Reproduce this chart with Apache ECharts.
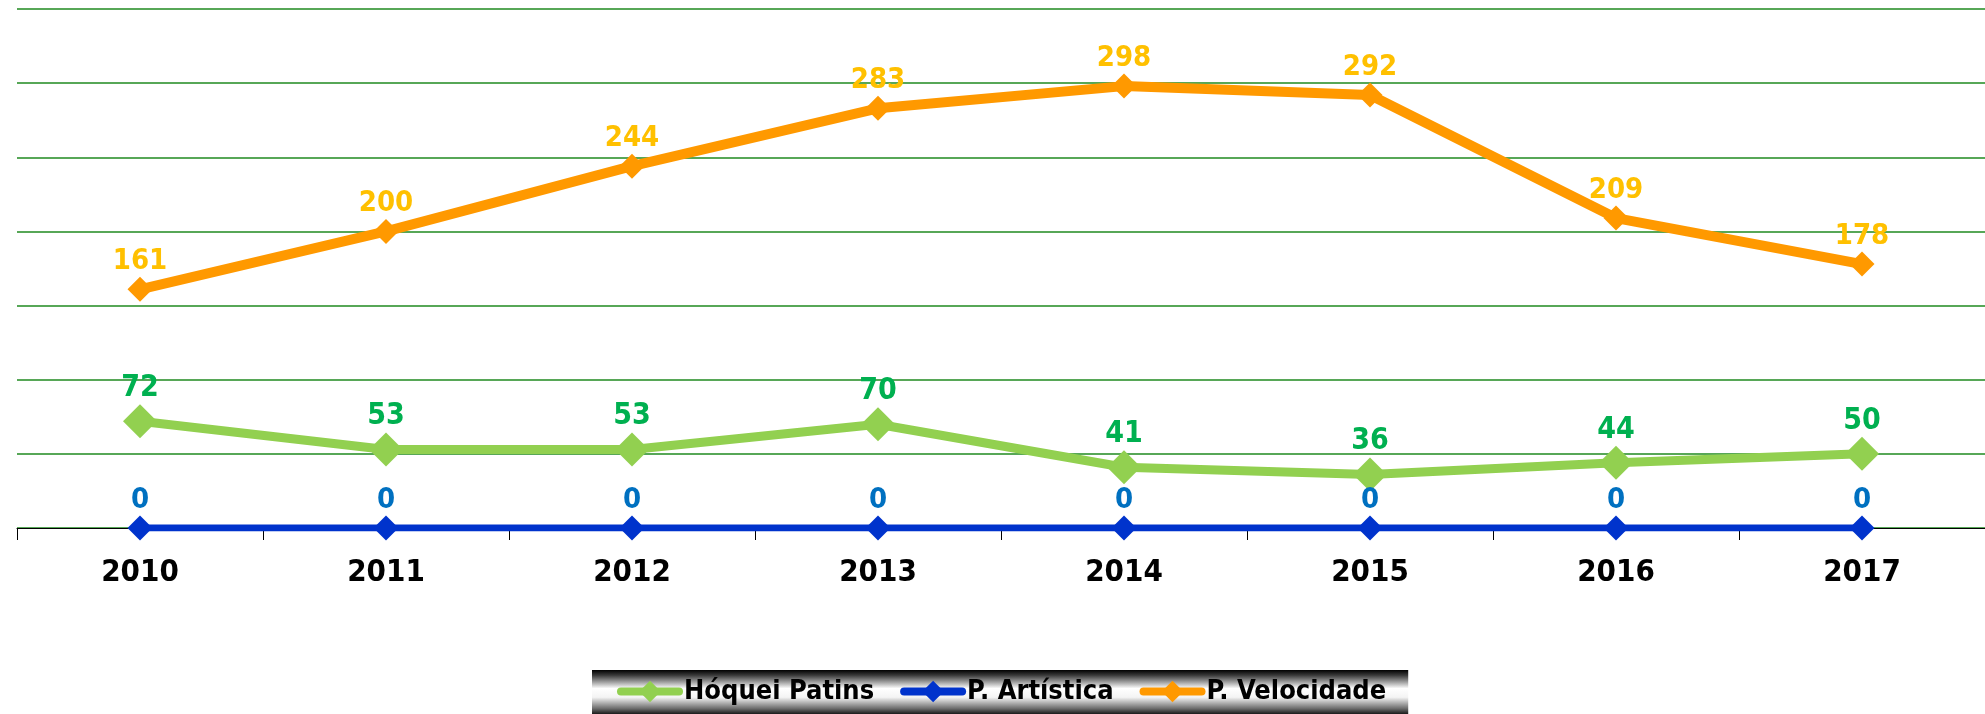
<!DOCTYPE html>
<html>
<head>
<meta charset="utf-8">
<script src="https://cdn.jsdelivr.net/npm/echarts@6/dist/echarts.min.js"></script>
<style>
	html, body {margin:0; padding:0; background:#fff;}
	#main {width:1985px; height:714px;}
</style>
</head>
<body>
<div id="main"></div>
<script>
	var anos = ['2010','2011','2012','2013','2014','2015','2016','2017'];
	var hoquei = [72, 53, 53, 70, 41, 36, 44, 50];
	var artistica = [0, 0, 0, 0, 0, 0, 0, 0];
	var velocidade = [161, 200, 244, 283, 298, 292, 209, 178];

	var fonte = "'DejaVu Sans Condensed', 'Liberation Sans Narrow', sans-serif";

	//fundo metalizado da legenda
	var fundoLegenda = new echarts.graphic.LinearGradient(0, 0, 0, 1, [
		{offset: 0, color: '#000'},
		{offset: 0.12, color: '#3a3a3a'},
		{offset: 0.42, color: '#fff'},
		{offset: 0.62, color: '#f4f4f4'},
		{offset: 0.88, color: '#6a6a6a'},
		{offset: 1, color: '#1a1a1a'}
	]);

	function serie(nome, dados, cor, corLabel, largura, tamanho, tamLabel){
		return {
			name: nome,
			type: 'line',
			data: dados,
			symbol: 'diamond',
			symbolSize: tamanho,
			lineStyle: {color: cor, width: largura},
			itemStyle: {color: cor},
			label: {
				show: true,
				position: 'top',
				distance: 1,
				color: corLabel,
				fontFamily: fonte,
				fontWeight: 'bold',
				fontSize: tamLabel
			}
		}
	}

	var chart = echarts.init(document.getElementById('main'));
	chart.setOption({
		animation: false,
		backgroundColor: '#fff',
		grid: {
			left: 17,
			top: 9,
			width: 1972,
			height: 519
		},
		legend: {
			left: 592,
			top: 670,
			padding: [8, 22, 9, 25],
			itemGap: 26,
			itemWidth: 58,
			itemHeight: 27,
			backgroundColor: fundoLegenda,
			lineStyle: {width: 8, cap: 'round'},
			textStyle: {
				color: '#000',
				fontFamily: fonte,
				fontWeight: 'bold',
				fontSize: 27
			},
			data: ['Hóquei Patins', 'P. Artística', 'P. Velocidade']
		},
		xAxis: {
			type: 'category',
			data: anos,
			boundaryGap: true,
			axisLine: {lineStyle: {color: '#000', width: 1}},
			axisTick: {show: true, length: 12, lineStyle: {color: '#000'}},
			axisLabel: {
				margin: 29,
				color: '#000',
				fontFamily: fonte,
				fontWeight: 'bold',
				fontSize: 31
			}
		},
		yAxis: {
			type: 'value',
			min: 0,
			max: 350,
			interval: 50,
			axisLabel: {show: false},
			axisLine: {show: false},
			axisTick: {show: false},
			splitLine: {lineStyle: {color: '#1f8a1f', width: 1.5}}
		},
		series: [
			serie('Hóquei Patins', hoquei, '#92D050', '#00B050', 9, 34, 30),
			serie('P. Artística', artistica, '#0033CC', '#0070C0', 7, 25, 29),
			serie('P. Velocidade', velocidade, '#FF9900', '#FFC000', 10, 25, 29)
		]
	});
</script>
</body>
</html>
